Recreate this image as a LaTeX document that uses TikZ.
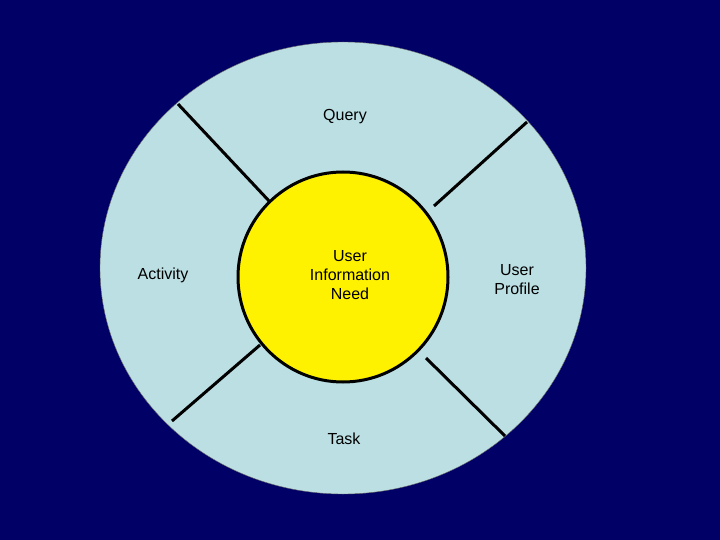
\documentclass[tikz,border=0pt]{standalone}
\usepackage{fontspec}
\usetikzlibrary{shapes.geometric}
\setmainfont{Liberation Sans}
\definecolor{navy}{HTML}{000066}
\definecolor{lblue}{HTML}{BCDFE3}
\tikzset{lbl/.style={font=\fontsize{16}{19}\selectfont,align=center,text=black},
 spoke/.style={line width=3pt,black}}
\begin{document}
\begin{tikzpicture}[x=1pt,y=-1pt]
\fill[navy] (0,0) rectangle (720,540);
\useasboundingbox (0,0) rectangle (720,540);
\node[ellipse,draw=black!60,fill=lblue,minimum width=486,minimum height=452,inner sep=0] (outer) at (343,268) {};
\coordinate (a1) at (178,104); \coordinate (a2) at (270,202);
\coordinate (b1) at (527,122); \coordinate (b2) at (434,206);
\coordinate (c1) at (172,421); \coordinate (c2) at (260,345);
\coordinate (d1) at (505,436); \coordinate (d2) at (426,358);
\draw[spoke] (a1)--(a2); \draw[spoke] (b1)--(b2); \draw[spoke] (c1)--(c2); \draw[spoke] (d1)--(d2);
\node[circle,draw=black,line width=3pt,fill=yellow,minimum size=210,inner sep=0] (inner) at (343,277) {};
\node[lbl] (q) at (345,117) {Query};
\node[lbl] (act) at (163,275) {Activity};
\node[lbl] (uin) at (350,275) {User\\Information\\Need};
\node[lbl] (up) at (517,280) {User\\Profile};
\node[lbl] (t) at (344,439) {Task};
\end{tikzpicture}
\end{document}
